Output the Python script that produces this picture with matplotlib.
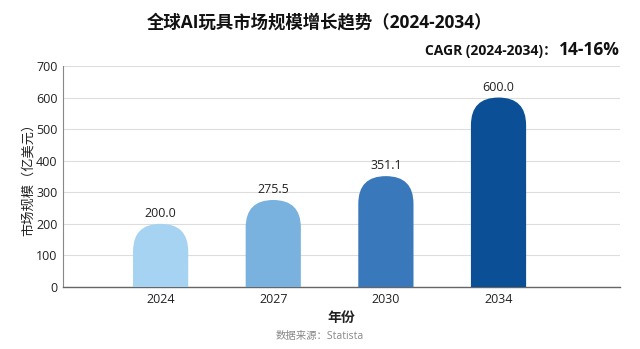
import matplotlib
matplotlib.use("Agg")
import matplotlib.pyplot as plt
from matplotlib.patches import FancyBboxPatch

plt.rcParams['font.family'] = ['Open Sans', 'Noto Sans CJK SC', 'DejaVu Sans']

years = ["2024", "2027", "2030", "2034"]
market_size = [200.0, 275.5, 351.1, 600.0]
bar_colors = ["#a6d3f2", "#79b2de", "#3878bb", "#0b5096"]
y_ticks = [0, 100, 200, 300, 400, 500, 600, 700]

fig = plt.figure(figsize=(6.4, 3.49), dpi=100)
ax = fig.add_axes([0.0984, 0.1777, 0.8706, 0.6333])

x = list(range(len(years)))
bar_w = 0.49
ax.set_xlim(-0.867, 4.08)
ax.set_ylim(0, 700)

# rounded tops: same pixel radius on x and y
p0 = ax.transData.transform((0, 0))
p1 = ax.transData.transform((1, 1))
aspect = (p1[0] - p0[0]) / (p1[1] - p0[1])

for xi, val, col in zip(x, market_size, bar_colors):
    box = FancyBboxPatch((xi - bar_w / 2, -300), bar_w, val + 300,
                         boxstyle="round,pad=0,rounding_size=%f" % (bar_w / 2),
                         mutation_aspect=aspect, facecolor=col,
                         edgecolor="none", zorder=3)
    ax.add_patch(box)
    ax.text(xi, val + 12, "%.1f" % val, ha="center", va="bottom",
            fontsize=9, color="#222222", zorder=4)

ax.set_xticks(x)
ax.set_xticklabels(years, fontsize=9, color="#222222")
ax.set_yticks(y_ticks)
ax.set_yticklabels([str(t) for t in y_ticks], fontsize=9, color="#222222")
ax.tick_params(axis="both", length=0, pad=4)
ax.yaxis.grid(True, color="#dddddd", linewidth=0.8, zorder=0)
ax.set_axisbelow(True)
for s in ["top", "right"]:
    ax.spines[s].set_visible(False)
ax.spines["left"].set_color("#888888")
ax.spines["bottom"].set_color("#666666")
ax.spines["left"].set_linewidth(0.8)
ax.spines["bottom"].set_linewidth(1.0)

ax.set_ylabel("市场规模（亿美元）", fontsize=9.5, color="#222222", labelpad=1)
ax.set_xlabel("年份", fontsize=10, fontweight="bold", color="#222222", labelpad=4)

fig.text(0.5, 0.937, "全球AI玩具市场规模增长趋势（2024-2034）", ha="center", va="center",
         fontsize=12.5, fontweight="bold", color="#111111")
cagr_val = fig.text(0.969, 0.857, "14-16%", ha="right", va="center",
                    fontsize=12.5, fontweight="bold", color="#111111")
ax.annotate("CAGR (2024-2034)：", xy=(0, 0.5), xycoords=cagr_val,
            xytext=(-2, -1), textcoords="offset points", ha="right", va="center",
            fontsize=10, fontweight="bold", color="#111111", annotation_clip=False)
fig.text(0.5, 0.037, "数据来源：Statista", ha="center", va="center",
         fontsize=7.5, color="#888888")

fig.savefig("out.png", dpi=100)
